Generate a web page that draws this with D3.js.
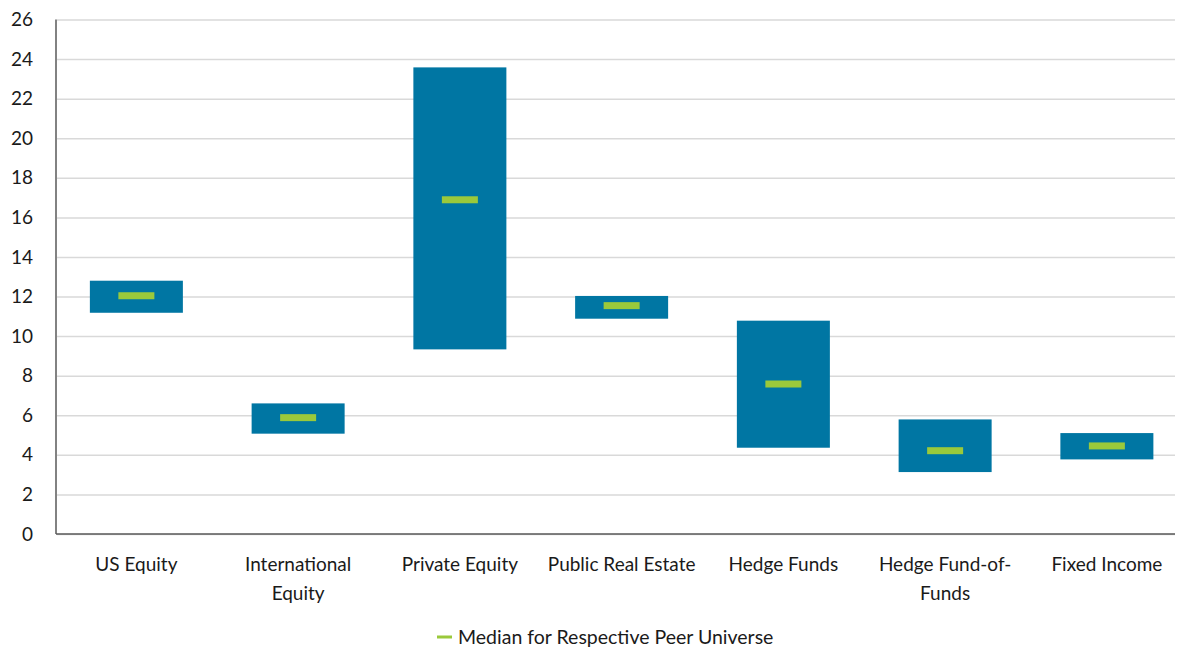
<!DOCTYPE html>
<meta charset="utf-8">
<style>
body { margin: 0; background: #fff; }
svg text { font-family: Lato, "Open Sans", sans-serif; fill: #1a1a1a; }
.grid line { stroke: #d9d9d9; stroke-width: 1.5px; }
.grid path { display: none; }
</style>
<body>
<div id="plotHere"></div>
<script src="https://cdn.jsdelivr.net/npm/d3@7"></script>
<script>
// data
var categories = ["US Equity", "International Equity", "Private Equity", "Public Real Estate",
                  "Hedge Funds", "Hedge Fund-of-Funds", "Fixed Income"];
var tickLines = [["US Equity"], ["International", "Equity"], ["Private Equity"], ["Public Real Estate"],
                 ["Hedge Funds"], ["Hedge Fund-of-", "Funds"], ["Fixed Income"]];
var lows    = [11.18, 5.07, 9.33, 10.88, 4.36, 3.13, 3.77];
var highs   = [12.80, 6.60, 23.58, 12.03, 10.78, 5.79, 5.10];
var medians = [12.04, 5.88, 16.89, 11.54, 7.58, 4.21, 4.45];
var yTicks  = d3.range(0, 27, 2);
var legendLabel = "Median for Respective Peer Universe";

var margin = {top: 19.5, right: 4, bottom: 115, left: 57},
    width = 1179 - margin.left - margin.right,
    height = 649 - margin.top - margin.bottom;

var svg = d3.select("#plotHere").append("svg")
    .attr("width", 1179)
    .attr("height", 649)
  .append("g")
    .attr("transform", "translate(" + margin.left + "," + margin.top + ")");

var x = d3.scaleBand().domain(categories).range([-1.5, 1130.75]).paddingInner(0.425).paddingOuter(0.2125);
var y = d3.scaleLinear().domain([0, 26]).range([height, 0]);

// gridlines
svg.append("g")
    .attr("class", "grid")
    .call(d3.axisLeft(y).tickValues(yTicks).tickSize(-width).tickFormat(""));

// y labels
svg.append("g")
  .selectAll("text")
  .data(yTicks)
  .join("text")
    .attr("x", -24)
    .attr("y", function(d) { return y(d); })
    .attr("dy", "0.35em")
    .attr("text-anchor", "end")
    .style("font-size", "19px")
    .text(function(d) { return d; });

// bars
svg.selectAll(".bar")
  .data(categories)
  .join("rect")
    .attr("class", "bar")
    .attr("x", function(d) { return x(d); })
    .attr("width", x.bandwidth())
    .attr("y", function(d, i) { return y(highs[i]); })
    .attr("height", function(d, i) { return y(lows[i]) - y(highs[i]); })
    .attr("fill", "#0076a3");

// medians
var mw = 36, mh = 7;
svg.selectAll(".median")
  .data(categories)
  .join("rect")
    .attr("class", "median")
    .attr("x", function(d) { return x(d) + x.bandwidth() / 2 - mw / 2; })
    .attr("width", mw)
    .attr("y", function(d, i) { return y(medians[i]) - mh / 2; })
    .attr("height", mh)
    .attr("fill", "#9ac93b");

// axis lines
svg.append("line")
    .attr("x1", -1).attr("x2", -1).attr("y1", 0).attr("y2", height)
    .attr("stroke", "#595959").attr("stroke-width", 1.5);
svg.append("line")
    .attr("x1", -1).attr("x2", width).attr("y1", height).attr("y2", height)
    .attr("stroke", "#595959").attr("stroke-width", 1.5);

// category labels
var labels = svg.append("g").selectAll("text")
  .data(categories)
  .join("text")
    .attr("x", function(d) { return x(d) + x.bandwidth() / 2; })
    .attr("y", height + 37)
    .attr("text-anchor", "middle")
    .style("font-size", "19px");
labels.each(function(d, i) {
  d3.select(this).selectAll("tspan")
    .data(tickLines[i])
    .join("tspan")
      .attr("x", x(d) + x.bandwidth() / 2)
      .attr("dy", function(t, j) { return j === 0 ? 0 : 29; })
      .text(function(t) { return t; });
});

// legend
var lg = svg.append("g").attr("transform", "translate(" + (437 - margin.left) + "," + (637 - margin.top) + ")");
lg.append("line")
    .attr("x1", 0).attr("x2", 15).attr("y1", 0).attr("y2", 0)
    .attr("stroke", "#9ac93b").attr("stroke-width", 3);
lg.append("text")
    .attr("x", 21)
    .attr("dy", "0.35em")
    .style("font-size", "19.5px")
    .text(legendLabel);
</script>
</body>
